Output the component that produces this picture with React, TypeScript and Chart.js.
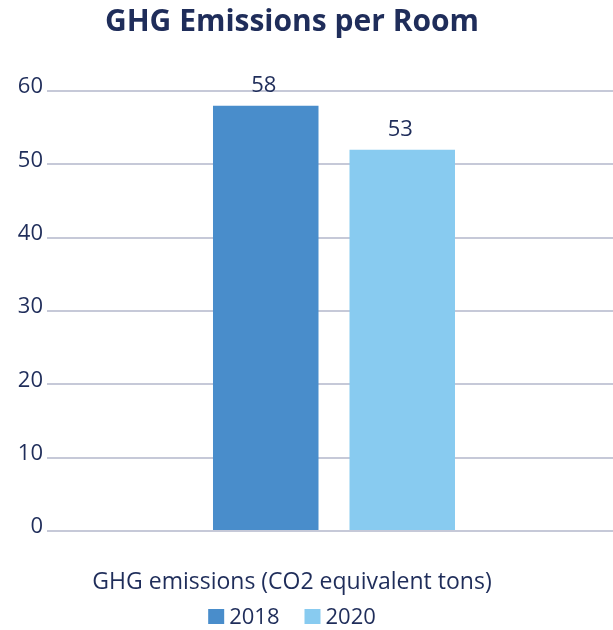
import React, { useEffect, useRef } from "react";
import { Chart, registerables } from "chart.js";

Chart.register(...registerables);

const TITLE = "GHG Emissions per Room";
const categories = ["GHG emissions (CO2 equivalent tons)"];
const seriesNames = ["2018", "2020"];
const values2018 = [58];
const values2020 = [52];
const valueLabels2018 = ["58"];
const valueLabels2020 = ["53"];
const yMin = 0;
const yMax = 60;
const yStep = 10;

const TEXT = "#1f2d5a";
const FONT = "'Open Sans', 'Noto Sans', sans-serif";
const COLORS = ["#498dcb", "#88cbf0"];
const GRID = "#c6c9d8";

const textPlugin = {
  id: "textPlugin",
  afterDatasetsDraw(chart: any) {
    const ctx = chart.ctx;
    const labelSets = [valueLabels2018, valueLabels2020];
    ctx.save();
    ctx.fillStyle = TEXT;
    ctx.font = `22px ${FONT}`;
    ctx.textAlign = "center";
    ctx.textBaseline = "alphabetic";
    chart.data.datasets.forEach((_: any, i: number) => {
      const meta = chart.getDatasetMeta(i);
      meta.data.forEach((bar: any, j: number) => {
        ctx.fillText(labelSets[i][j], bar.x - 2, bar.y - 14);
      });
    });
    ctx.restore();
  },
  afterDraw(chart: any) {
    const ctx = chart.ctx;
    const cx = 292;
    ctx.save();
    ctx.fillStyle = TEXT;
    ctx.textBaseline = "alphabetic";
    ctx.textAlign = "center";
    ctx.font = `bold 30px ${FONT}`;
    ctx.fillText(TITLE, cx, 31);
    ctx.font = `23px ${FONT}`;
    ctx.fillText(chart.data.labels[0], cx, 589);

    // legend
    ctx.font = `22px ${FONT}`;
    const box = 16;
    const gapText = 5;
    const gapItem = 25;
    const items = chart.data.datasets.map((d: any) => ({
      label: d.label,
      color: d.backgroundColor,
      w: ctx.measureText(d.label).width,
    }));
    let total = 0;
    items.forEach((it: any, i: number) => {
      total += box + gapText + it.w + (i < items.length - 1 ? gapItem : 0);
    });
    let x = cx - total / 2;
    ctx.textAlign = "left";
    items.forEach((it: any) => {
      ctx.fillStyle = it.color;
      ctx.fillRect(x, 609, box, 15);
      ctx.fillStyle = TEXT;
      ctx.fillText(it.label, x + box + gapText, 624);
      x += box + gapText + it.w + gapItem;
    });
    ctx.restore();
  },
};

export default function App() {
  const ref = useRef<HTMLCanvasElement | null>(null);
  useEffect(() => {
    if (!ref.current) return;
    const chart = new Chart(ref.current, {
      type: "bar",
      data: {
        labels: categories,
        datasets: [
          {
            label: seriesNames[0],
            data: values2018,
            backgroundColor: COLORS[0],
            categoryPercentage: 0.4756,
            barPercentage: 0.773,
          },
          {
            label: seriesNames[1],
            data: values2020,
            backgroundColor: COLORS[1],
            categoryPercentage: 0.4756,
            barPercentage: 0.773,
          },
        ],
      },
      options: {
        responsive: false,
        animation: false,
        devicePixelRatio: 1,
        layout: { padding: { left: 0, right: 4, top: 91, bottom: 99 } },
        plugins: {
          legend: { display: false },
          title: { display: false },
          tooltip: { enabled: false },
        },
        scales: {
          x: { display: false },
          y: {
            min: yMin,
            max: yMax,
            border: { display: false },
            grid: { color: GRID, lineWidth: 2, drawTicks: false },
            afterFit(scale: any) {
              scale.width = 47;
            },
            ticks: {
              stepSize: yStep,
              color: TEXT,
              padding: 4,
              labelOffset: -4,
              font: { family: FONT, size: 22 },
            },
          },
        },
      },
      plugins: [textPlugin],
    });
    return () => chart.destroy();
  }, []);
  return (
    <div
      style={{
        position: "fixed",
        left: 0,
        top: 0,
        width: 613,
        height: 630,
        overflow: "hidden",
        background: "#fff",
      }}
    >
      <canvas ref={ref} width={625} height={630} style={{ width: 625, height: 630, display: "block" }} />
    </div>
  );
}
